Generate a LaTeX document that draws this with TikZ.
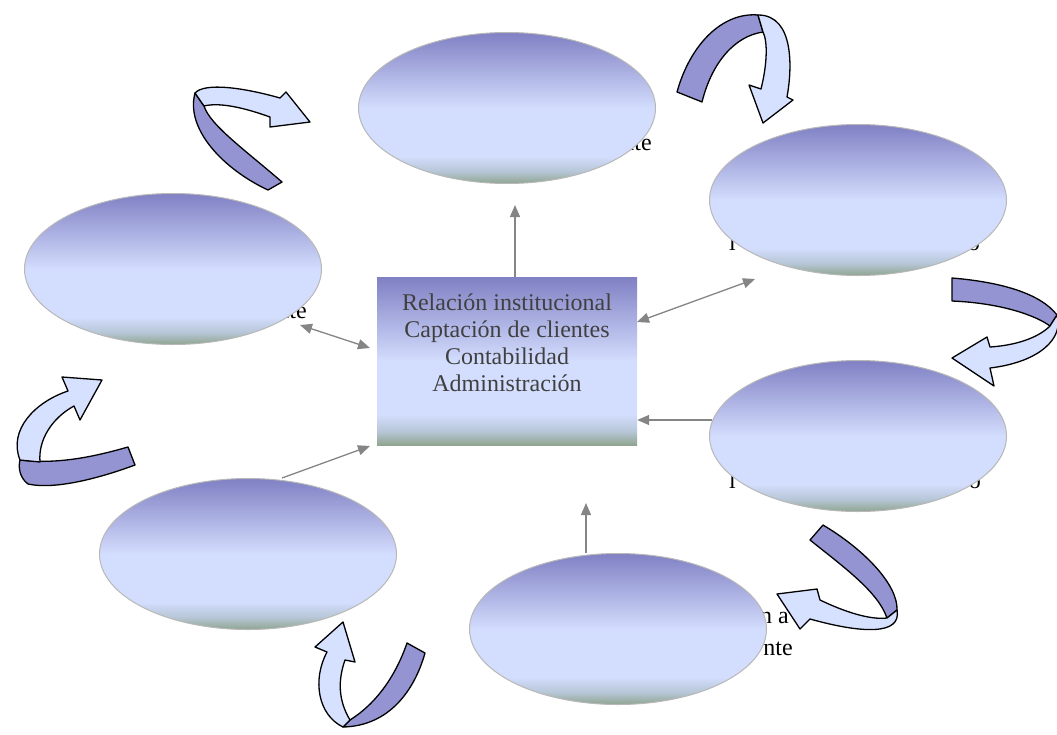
\documentclass[tikz,border=0pt]{standalone}
\usepackage{fontspec}
\setmainfont{Liberation Serif}
\usetikzlibrary{shapes.geometric,arrows.meta}
\definecolor{gT}{HTML}{8080C4}
\definecolor{gL}{HTML}{D3DDFD}
\definecolor{gM}{HTML}{B6C6D6}
\definecolor{gB}{HTML}{8FA58F}
\definecolor{ribD}{HTML}{9494D2}
\definecolor{ribL}{HTML}{D6E0FF}
\definecolor{conn}{HTML}{858585}
\definecolor{ctext}{HTML}{404040}
\definecolor{edgec}{HTML}{B8B8B8}
\pgfdeclareverticalshading{ovalsh}{100bp}{color(0bp)=(gB); color(25bp)=(gB); color(29bp)=(gM); color(34bp)=(gL); color(50bp)=(gL); color(75bp)=(gT); color(100bp)=(gT)}
\begin{document}
\begin{tikzpicture}[x=1pt,y=-1pt,
  oval/.style={ellipse, shading=ovalsh, draw=edgec, line width=1pt, minimum width=297pt, minimum height=151pt, inner sep=0pt},
  centrebox/.style={rectangle, shading=ovalsh, minimum width=260pt, minimum height=168pt, inner sep=0pt},
  frag/.style={font=\fontsize{24}{27}\selectfont, inner sep=0pt, text=black},
  conarrow/.style={draw=conn, line width=1.3pt, -{Triangle[length=12pt,width=10pt]}},
  conboth/.style={draw=conn, line width=1.3pt, {Triangle[length=12pt,width=10pt]}-{Triangle[length=12pt,width=10pt]}},
  ribdark/.style={fill=ribD, draw=black, line width=1.3pt, line join=round},
  riblight/.style={fill=ribL, draw=black, line width=1.3pt, line join=round}]
\useasboundingbox (0,0) rectangle (1057,734);
\fill[white] (0,0) rectangle (1057,734);

% partly hidden texts
\node[frag, anchor=base east] (t1) at (652,150) {nte};
\node[frag, anchor=base east] (t2) at (307,318) {nte};
\node[frag, anchor=base west] (t3) at (729,250) {l};
\node[frag, anchor=base east] (t4) at (980,250) {o};
\node[frag, anchor=base west] (t5) at (729,488) {l};
\node[frag, anchor=base east] (t6) at (981,488) {o};
\node[frag, anchor=base east] (t7) at (789,623) {n a};
\node[frag, anchor=base east] (t8) at (793,655) {nte};

% ellipses
\node[oval] (e1) at (507,108) {};
\node[oval] (e2) at (858,200) {};
\node[oval] (e3) at (173,269) {};
\node[oval] (e4) at (858,436) {};
\node[oval] (e5) at (248,554) {};
\node[oval] (e6) at (618,629) {};

% centre box
\node[centrebox] (c) at (507,361) {};
\node[anchor=north, align=center, inner sep=0pt, text=ctext, font=\fontsize{24}{27}\selectfont] (ct) at (507,294)
  {Relación institucional\\Captación de clientes\\Contabilidad\\Administración};

% connectors
\coordinate (a1) at (515,205);
\draw[conarrow] (c.north -| a1) -- (a1);
\coordinate (b1) at (637,322);
\coordinate (b2) at (755,279);
\draw[conboth] (b1) -- (b2);
\coordinate (d1) at (300,325);
\coordinate (d2) at (370,348);
\draw[conboth] (d1) -- (d2);
\coordinate (f1) at (712,420);
\draw[conarrow] (f1) -- (c.east |- f1);
\coordinate (g1) at (586,553);
\coordinate (g2) at (586,503);
\draw[conarrow] (g1) -- (g2);
\coordinate (h1) at (282,478);
\coordinate (h2) at (370,446);
\draw[conarrow] (h1) -- (h2);

% ribbon arrow, top right
\draw[ribdark] (677,92) .. controls (690,45) and (722,12) .. (758,15) -- (763,32) .. controls (735,36) and (712,62) .. (702,102) -- cycle;
\draw[riblight] (758,15) .. controls (795,15) and (792,70) .. (787,97) -- (793,100) -- (763,123) -- (749,85) -- (761,89) .. controls (767,65) and (768,42) .. (763,32) -- cycle;

% ribbon arrow, right
\draw[ribdark] (952,278) .. controls (1000,282) and (1040,293) .. (1057,315) -- (1050,326) .. controls (1035,315) and (1000,303) .. (952,301) -- cycle;
\draw[riblight] (1057,315) .. controls (1064,338) and (1040,362) .. (990,368) -- (994,386) -- (952,358) -- (987,337) -- (990,347) .. controls (1020,345) and (1040,336) .. (1050,326) -- cycle;

% ribbon arrow, lower right
\draw[ribdark] (823,525) .. controls (865,550) and (898,585) .. (897,610) -- (887,618) .. controls (878,592) and (845,568) .. (810,540) -- cycle;
\draw[riblight] (897,610) .. controls (902,636) and (860,633) .. (810,619) -- (800,629) -- (777,594) -- (817,589) -- (820,600) .. controls (845,612) and (870,620) .. (887,618) -- cycle;

% ribbon arrow, bottom
\draw[ribdark] (350,720) .. controls (377,703) and (396,675) .. (407,643) -- (425,653) .. controls (414,692) and (388,726) .. (343,727) -- cycle;
\draw[riblight] (327,652) .. controls (312,680) and (318,715) .. (343,727) -- (350,720) .. controls (338,700) and (338,680) .. (345,660) -- (355,662) -- (343,622) -- (315,647) -- cycle;

% ribbon arrow, left
\draw[ribdark] (20,460) .. controls (60,465) and (100,455) .. (128,447) -- (135,465) .. controls (100,478) and (55,490) .. (28,484) .. controls (20,478) and (18,468) .. (20,460) -- cycle;
\draw[riblight] (20,460) .. controls (8,430) and (35,402) .. (68,391) -- (62,377) -- (102,380) -- (80,420) -- (74,406) .. controls (52,418) and (38,440) .. (40,462) -- cycle;

% ribbon arrow, upper left
\draw[ribdark] (195,93) .. controls (185,130) and (225,170) .. (268,190) -- (282,182) .. controls (245,150) and (210,125) .. (204,106) -- cycle;
\draw[riblight] (195,93) .. controls (205,82) and (245,88) .. (280,98) -- (286,92) -- (310,122) -- (270,127) -- (270,117) .. controls (245,108) and (220,102) .. (204,106) -- cycle;
\end{tikzpicture}
\end{document}
